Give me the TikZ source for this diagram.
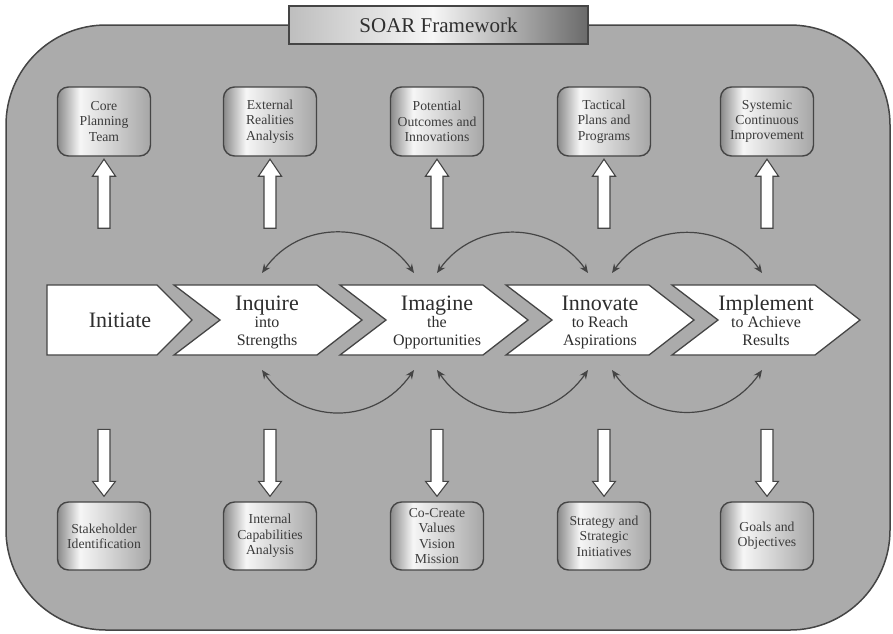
\documentclass[tikz,border=0pt]{standalone}
\usepackage{fontspec}
\setmainfont{Liberation Serif}
\usetikzlibrary{arrows.meta}
\definecolor{frameFill}{HTML}{ABABAB}
\definecolor{lineC}{HTML}{454545}
\definecolor{txtC}{HTML}{2E2E2E}
\definecolor{boxTxt}{HTML}{3C3C3C}
\definecolor{bxL}{HTML}{8A8A8A}
\definecolor{bxM}{HTML}{F6F6F6}
\definecolor{bxR}{HTML}{A6A6A6}
\definecolor{tL}{HTML}{BEBEBE}
\definecolor{tR}{HTML}{6A6A6A}
\pgfdeclarehorizontalshading{boxshade}{100bp}{color(0bp)=(bxL); color(25bp)=(bxL); color(37bp)=(bxM); color(75bp)=(bxR); color(100bp)=(bxR)}
\pgfdeclarehorizontalshading{titleshade}{100bp}{color(0bp)=(tL); color(25bp)=(tL); color(49bp)=(bxM); color(75bp)=(tR); color(100bp)=(tR)}
\tikzset{
  frame/.style={draw=lineC, line width=1.5pt, fill=frameFill, rounded corners=100pt},
  titlebox/.style={draw=lineC, line width=1.5pt, shade, shading=titleshade, minimum width=299pt, minimum height=38pt, inner sep=0pt, text=txtC, font=\fontsize{21}{23}\selectfont},
  infobox/.style={draw=lineC, line width=1.4pt, rounded corners=11pt, shade, shading=boxshade, minimum width=93pt, minimum height=69pt, inner sep=0pt, align=center, text=boxTxt, font=\fontsize{13.7}{15.3}\selectfont},
  chev/.style={draw=lineC, line width=1.3pt, fill=white, line join=miter},
  blk/.style={draw=lineC, line width=1.1pt, fill=white, line join=miter},
  arcarrow/.style={draw=lineC, line width=1.2pt, {Stealth[length=9pt,width=7.5pt]}-{Stealth[length=9pt,width=7.5pt]}},
  bigtxt/.style={font=\fontsize{22}{24}\selectfont, text=txtC, anchor=base, inner sep=0pt},
  smalltxt/.style={font=\fontsize{16}{17}\selectfont, text=txtC, anchor=base, inner sep=0pt}
}
\begin{document}
\begin{tikzpicture}[x=1pt,y=1pt]
\useasboundingbox (0,0) rectangle (893,-633);
% frame
\draw[frame] (6,-25) rectangle (890,-630);
\node[titlebox] (title) at (438.5,-25) {SOAR Framework};

% top boxes
\node[infobox] (t1) at (104,-121.5) {Core\\Planning\\Team};
\node[infobox] (t2) at (270,-121.5) {External\\Realities\\Analysis};
\node[infobox] (t3) at (437,-121.5) {Potential\\Outcomes and\\Innovations};
\node[infobox] (t4) at (604,-121.5) {Tactical\\Plans and\\Programs};
\node[infobox] (t5) at (767,-121.5) {Systemic\\Continuous\\Improvement};

% bottom boxes
\node[infobox, minimum height=68pt] (b1) at (104,-536) {Stakeholder\\Identification};
\node[infobox, minimum height=68pt] (b2) at (270,-536) {Internal\\Capabilities\\Analysis};
\node[infobox, minimum height=68pt] (b3) at (437,-536) {Co-Create\\Values\\Vision\\Mission};
\node[infobox, minimum height=68pt] (b4) at (604,-536) {Strategy and\\Strategic\\Initiatives};
\node[infobox, minimum height=68pt] (b5) at (767,-536) {Goals and\\Objectives};

% block arrows
\foreach \i in {1,...,5}{
  \draw[blk] ([yshift=-2.5pt]t\i.south) -- ++(11.5,-17) -- ++(-5.5,0) -- ++(0,-52) -- ++(-12,0) -- ++(0,52) -- ++(-5.5,0) -- cycle;
  \draw[blk] ([yshift=5pt]b\i.north) -- ++(-11.5,15) -- ++(5.5,0) -- ++(0,52) -- ++(12,0) -- ++(0,-52) -- ++(5.5,0) -- cycle;
}

% chevrons
\draw[chev] (47,-285) -- (157,-285) -- (192,-320) -- (157,-355) -- (47,-355) -- cycle;
\foreach \k in {0,1,2,3}{
  \draw[chev] ({174+166*\k},-285) -- ({317+166*\k},-285) -- ({362+166*\k},-320) -- ({317+166*\k},-355) -- ({174+166*\k},-355) -- ({220+166*\k},-320) -- cycle;
}

% chevron texts
\node[bigtxt] (s1) at (120,-327) {Initiate};
\node[bigtxt] (s2) at (267,-310) {Inquire};
\node[smalltxt] (s2a) at (267,-327) {into};
\node[smalltxt] (s2b) at (267,-345) {Strengths};
\node[bigtxt] (s3) at (437,-310) {Imagine};
\node[smalltxt] (s3a) at (437,-327) {the};
\node[smalltxt] (s3b) at (437,-345) {Opportunities};
\node[bigtxt] (s4) at (600,-310) {Innovate};
\node[smalltxt] (s4a) at (600,-327) {to Reach};
\node[smalltxt] (s4b) at (600,-345) {Aspirations};
\node[bigtxt] (s5) at (766,-310) {Implement};
\node[smalltxt] (s5a) at (766,-327) {to Achieve};
\node[smalltxt] (s5b) at (766,-345) {Results};

% curved arrows
\coordinate (a1) at (262,-273);
\coordinate (a2) at (414,-273);
\coordinate (a3) at (437,-273);
\coordinate (a4) at (588,-273);
\coordinate (a5) at (612,-273);
\coordinate (a6) at (762,-273);
\coordinate (c1) at (262,-370);
\coordinate (c2) at (414,-370);
\coordinate (c3) at (437,-370);
\coordinate (c4) at (588,-370);
\coordinate (c5) at (612,-370);
\coordinate (c6) at (762,-370);
\draw[arcarrow] (a1) to[out=55,in=125,looseness=1.1] (a2);
\draw[arcarrow] (a3) to[out=55,in=125,looseness=1.1] (a4);
\draw[arcarrow] (a5) to[out=55,in=125,looseness=1.1] (a6);
\draw[arcarrow] (c1) to[out=-55,in=-125,looseness=1.15] (c2);
\draw[arcarrow] (c3) to[out=-55,in=-125,looseness=1.15] (c4);
\draw[arcarrow] (c5) to[out=-55,in=-125,looseness=1.15] (c6);
\end{tikzpicture}
\end{document}
